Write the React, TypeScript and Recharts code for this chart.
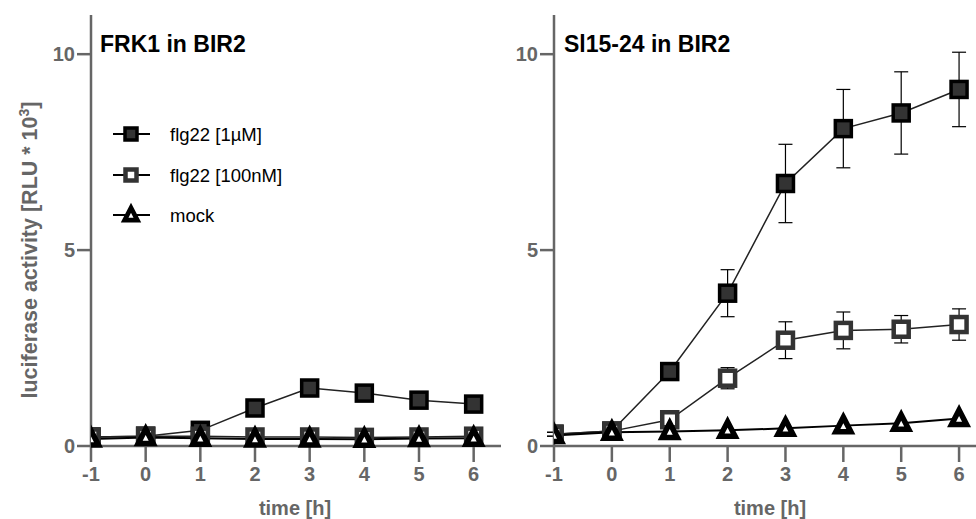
import { LineChart, Line, XAxis, YAxis, ErrorBar } from "recharts";

const HOURS = [-1, 0, 1, 2, 3, 4, 5, 6];
const X_TICKS = [-1, 0, 1, 2, 3, 4, 5, 6];
const Y_TICKS = [0, 5, 10];

// FRK1 in BIR2
const FRK1_1UM = [0.23, 0.25, 0.4, 0.97, 1.48, 1.35, 1.17, 1.07];
const FRK1_100NM = [0.23, 0.25, 0.25, 0.23, 0.23, 0.22, 0.23, 0.25];
const FRK1_MOCK = [0.18, 0.22, 0.2, 0.18, 0.18, 0.17, 0.19, 0.2];

// Sl15-24 in BIR2
const SL_1UM = [0.3, 0.38, 1.9, 3.9, 6.7, 8.1, 8.5, 9.1];
const SL_1UM_ERR = [0.05, 0.05, 0.1, 0.6, 1.0, 1.0, 1.05, 0.95];
const SL_100NM = [0.3, 0.38, 0.67, 1.73, 2.7, 2.95, 2.98, 3.1];
const SL_100NM_ERR = [0.05, 0.05, 0.1, 0.27, 0.47, 0.47, 0.35, 0.4];
const SL_MOCK = [0.27, 0.35, 0.37, 0.4, 0.45, 0.52, 0.58, 0.7];

const LEGEND = ["flg22 [1µM]", "flg22 [100nM]", "mock"];

const frkData = HOURS.map((t, i) => ({
  t,
  a: FRK1_1UM[i],
  b: FRK1_100NM[i],
  c: FRK1_MOCK[i],
}));

const slData = HOURS.map((t, i) => ({
  t,
  a: SL_1UM[i],
  aErr: SL_1UM_ERR[i],
  b: SL_100NM[i],
  bErr: SL_100NM_ERR[i],
  c: SL_MOCK[i],
}));

const AXIS = "#666";
const FONT = "'Liberation Sans', Arial, sans-serif";

const FilledSquare = (props: any) => {
  const { cx, cy, s = 16 } = props;
  if (cx == null || cy == null) return <g />;
  return (
    <rect x={cx - s / 2} y={cy - s / 2} width={s} height={s} fill="#333" stroke="#000" strokeWidth={3.5} />
  );
};

const OpenSquare = (props: any) => {
  const { cx, cy, s = 15 } = props;
  if (cx == null || cy == null) return <g />;
  return (
    <rect x={cx - s / 2} y={cy - s / 2} width={s} height={s} fill="#fff" stroke="#333" strokeWidth={4.5} />
  );
};

const Triangle = (props: any) => {
  const { cx, cy, k = 1 } = props;
  if (cx == null || cy == null) return <g />;
  const pts = `${cx},${cy - 8.5 * k} ${cx + 7.5 * k},${cy + 6 * k} ${cx - 7.5 * k},${cy + 6 * k}`;
  return <polygon points={pts} fill="#fff" stroke="#000" strokeWidth={5.5 * k} strokeLinejoin="miter" />;
};

const axisProps = {
  stroke: AXIS,
  strokeWidth: 2.5,
  tick: { fill: AXIS, fontSize: 20, fontWeight: "bold" },
};

function Panel({ data, errors, left, width, marginLeft, marginRight }: any) {
  return (
    <div style={{ position: "absolute", left, top: 0 }}>
      <LineChart
        width={width}
        height={519}
        data={data}
        margin={{ top: 15, right: marginRight, left: marginLeft, bottom: 23 }}
        style={{ fontFamily: FONT }}
      >
        <XAxis
          dataKey="t"
          type="number"
          domain={[-1, 6.5]}
          ticks={X_TICKS}
          height={50}
          tickSize={16}
          tickMargin={5}
          allowDataOverflow
          {...axisProps}
        />
        <YAxis
          type="number"
          domain={[0, 11]}
          ticks={Y_TICKS}
          width={60}
          tickSize={14}
          tickMargin={2}
          {...axisProps}
        />
        <Line
          dataKey="a"
          stroke="#222"
          strokeWidth={1.5}
          dot={(p: any) => <FilledSquare key={p.index} {...p} />}
          isAnimationActive={false}
        >
          {errors && <ErrorBar dataKey="aErr" direction="y" width={7} stroke="#000" strokeWidth={1.2} />}
        </Line>
        <Line
          dataKey="b"
          stroke="#222"
          strokeWidth={1.5}
          dot={(p: any) => <OpenSquare key={p.index} {...p} />}
          isAnimationActive={false}
        >
          {errors && <ErrorBar dataKey="bErr" direction="y" width={7} stroke="#000" strokeWidth={1.2} />}
        </Line>
        <Line
          dataKey="c"
          stroke="#000"
          strokeWidth={2}
          dot={(p: any) => <Triangle key={p.index} {...p} />}
          isAnimationActive={false}
        />
      </LineChart>
    </div>
  );
}

export default function App() {
  const legendY = [134, 175, 215];
  return (
    <div
      style={{
        position: "absolute",
        left: 0,
        top: 0,
        width: 976,
        height: 519,
        overflow: "hidden",
        background: "#fff",
      }}
    >
      <Panel data={frkData} errors={false} left={0} width={520} marginLeft={31} marginRight={19} />
      <Panel data={slData} errors={true} left={490} width={510} marginLeft={4} marginRight={12} />
      <svg
        width={976}
        height={519}
        style={{ position: "absolute", left: 0, top: 0, pointerEvents: "none", fontFamily: FONT }}
      >
        <text x={100} y={52} fontSize={23} fontWeight="bold" fill="#000">
          FRK1 in BIR2
        </text>
        <text x={564} y={52} fontSize={23} fontWeight="bold" fill="#000">
          Sl15-24 in BIR2
        </text>
        <text
          transform="rotate(-90)"
          x={-250}
          y={37}
          textAnchor="middle"
          fontSize={21.5}
          fontWeight="bold"
          fill={AXIS}
        >
          luciferase activity [RLU * 10
          <tspan dy={-8} fontSize={14}>3</tspan>
          <tspan dy={8}>]</tspan>
        </text>
        <text x={295} y={515} textAnchor="middle" fontSize={20} fontWeight="bold" fill={AXIS}>
          time [h]
        </text>
        <text x={770} y={515} textAnchor="middle" fontSize={20} fontWeight="bold" fill={AXIS}>
          time [h]
        </text>
        {LEGEND.map((name, i) => (
          <g key={name}>
            <line x1={113} x2={150} y1={legendY[i]} y2={legendY[i]} stroke="#000" strokeWidth={2} />
            {i === 0 && <FilledSquare cx={131} cy={legendY[i]} s={12} />}
            {i === 1 && <OpenSquare cx={131} cy={legendY[i]} s={11} />}
            {i === 2 && <Triangle cx={131} cy={legendY[i]} k={0.85} />}
            <text x={170} y={legendY[i] + 6.5} fontSize={18.5} fill="#000">
              {name}
            </text>
          </g>
        ))}
      </svg>
    </div>
  );
}
